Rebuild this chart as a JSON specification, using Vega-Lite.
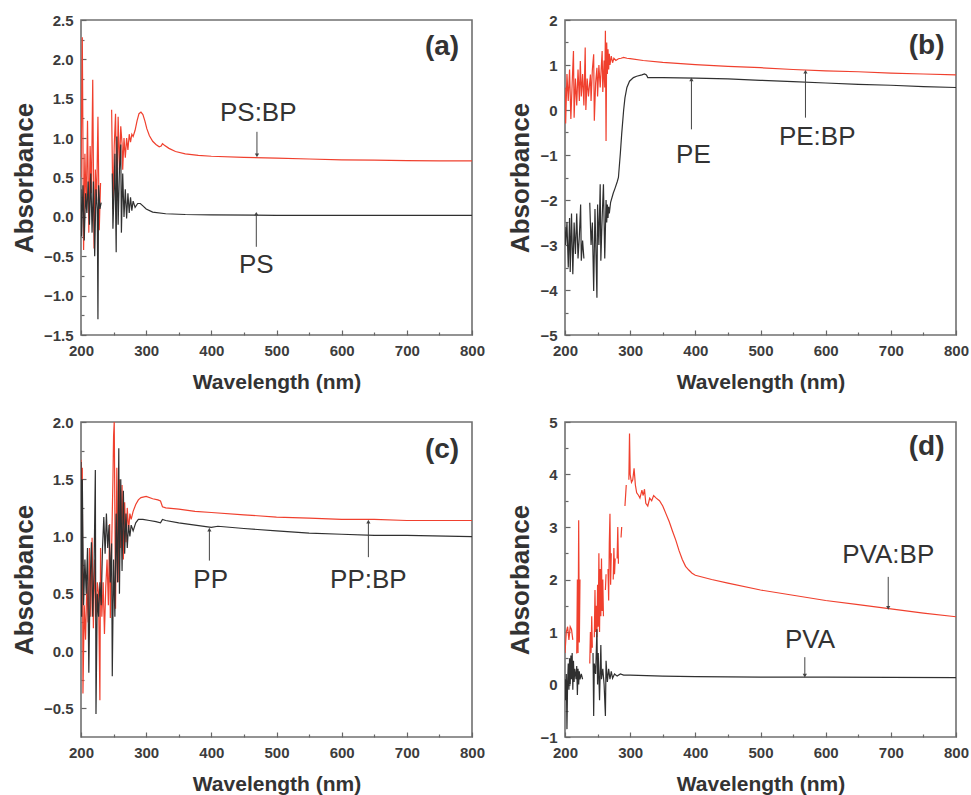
{
  "$schema": "https://vega.github.io/schema/vega-lite/v6.json",
  "padding": {"left": 10, "top": 12, "right": 5, "bottom": 5},
  "background": "white",
  "config": {
    "view": {"stroke": "#707070", "strokeWidth": 1.6},
    "axis": {"grid": false, "domain": false, "labelFlush": false, "tickSize": -5, "tickColor": "#666666", "tickWidth": 1.2, "labelFont": "Liberation Sans", "labelFontSize": 15, "labelFontWeight": "bold", "labelColor": "#3c3c3c", "titleFont": "Liberation Sans", "titleFontWeight": "bold", "titleColor": "#333333"},
    "axisX": {"labelPadding": 13, "titleFontSize": 21, "titlePadding": 13},
    "axisY": {"labelPadding": 13, "titleFontSize": 26, "titlePadding": 6},
    "text": {"font": "Liberation Sans"}
  },
  "datasets": {
    "aR": [{"nm":200,"A":0.5},{"nm":202,"A":2.28},{"nm":204,"A":-0.42},{"nm":206,"A":0.8},{"nm":208,"A":0.1},{"nm":210,"A":1.22},{"nm":212,"A":-0.2},{"nm":214,"A":0.9},{"nm":216,"A":0.3},{"nm":218,"A":1.74},{"nm":220,"A":-0.4},{"nm":222,"A":0.6},{"nm":224,"A":0.2},{"nm":226,"A":1.27},{"nm":228,"A":-0.17},{"nm":230,"A":0.43},{"nm":231,"A":null},{"nm":247,"A":1.36},{"nm":249,"A":0.1},{"nm":251,"A":0.9},{"nm":253,"A":1.31},{"nm":255,"A":0.2},{"nm":257,"A":1.27},{"nm":259,"A":0.6},{"nm":261,"A":1.15},{"nm":263,"A":0.93},{"nm":264,"A":0.6},{"nm":266,"A":1.0},{"nm":268,"A":0.75},{"nm":270,"A":1.0},{"nm":272,"A":0.85},{"nm":274,"A":1.05},{"nm":276,"A":0.95},{"nm":278,"A":1.05},{"nm":280,"A":1.02},{"nm":283,"A":1.1},{"nm":286,"A":1.22},{"nm":289,"A":1.31},{"nm":292,"A":1.33},{"nm":295,"A":1.3},{"nm":298,"A":1.22},{"nm":301,"A":1.12},{"nm":305,"A":1.03},{"nm":310,"A":0.96},{"nm":315,"A":0.92},{"nm":320,"A":0.89},{"nm":323,"A":0.9},{"nm":325,"A":0.93},{"nm":328,"A":0.91},{"nm":335,"A":0.87},{"nm":345,"A":0.83},{"nm":360,"A":0.8},{"nm":380,"A":0.78},{"nm":400,"A":0.77},{"nm":450,"A":0.755},{"nm":500,"A":0.745},{"nm":550,"A":0.735},{"nm":600,"A":0.725},{"nm":650,"A":0.72},{"nm":700,"A":0.715},{"nm":750,"A":0.71},{"nm":800,"A":0.71}],
    "aK": [{"nm":200,"A":0.35},{"nm":201,"A":-0.25},{"nm":203,"A":0.4},{"nm":205,"A":-0.3},{"nm":207,"A":0.3},{"nm":209,"A":0.05},{"nm":211,"A":0.45},{"nm":213,"A":-0.1},{"nm":215,"A":0.55},{"nm":217,"A":-0.2},{"nm":219,"A":0.45},{"nm":221,"A":-0.5},{"nm":223,"A":0.35},{"nm":225,"A":0.1},{"nm":226,"A":-1.3},{"nm":227,"A":0.4},{"nm":229,"A":0.1},{"nm":231,"A":0.18},{"nm":232,"A":null},{"nm":248,"A":0.55},{"nm":249,"A":-0.15},{"nm":251,"A":0.4},{"nm":252,"A":0.8},{"nm":254,"A":-0.45},{"nm":255,"A":1.02},{"nm":257,"A":-0.1},{"nm":259,"A":0.6},{"nm":261,"A":0.92},{"nm":262,"A":-0.2},{"nm":264,"A":0.55},{"nm":266,"A":0.0},{"nm":268,"A":0.35},{"nm":270,"A":-0.02},{"nm":272,"A":0.3},{"nm":274,"A":0.05},{"nm":276,"A":0.25},{"nm":278,"A":0.08},{"nm":280,"A":0.2},{"nm":283,"A":0.12},{"nm":287,"A":0.17},{"nm":291,"A":0.17},{"nm":295,"A":0.14},{"nm":300,"A":0.1},{"nm":310,"A":0.06},{"nm":330,"A":0.04},{"nm":360,"A":0.03},{"nm":400,"A":0.025},{"nm":500,"A":0.02},{"nm":600,"A":0.02},{"nm":800,"A":0.02}],
    "bR": [{"nm":200,"A":0.5},{"nm":201,"A":-0.3},{"nm":203,"A":0.8},{"nm":205,"A":0.2},{"nm":207,"A":0.9},{"nm":209,"A":-0.2},{"nm":211,"A":0.6},{"nm":213,"A":1.31},{"nm":214,"A":-0.17},{"nm":216,"A":0.7},{"nm":218,"A":0.1},{"nm":220,"A":0.9},{"nm":222,"A":0.2},{"nm":223.5,"A":1.09},{"nm":225,"A":0.3},{"nm":227,"A":0.8},{"nm":229,"A":0.1},{"nm":231,"A":1.39},{"nm":232,"A":0.0},{"nm":234,"A":0.7},{"nm":236,"A":0.3},{"nm":239,"A":0.79},{"nm":240,"A":0.2},{"nm":242,"A":0.9},{"nm":244,"A":1.24},{"nm":245,"A":-0.24},{"nm":247,"A":0.6},{"nm":249,"A":0.94},{"nm":250,"A":0.3},{"nm":252,"A":1.0},{"nm":254,"A":0.5},{"nm":257,"A":1.31},{"nm":258,"A":0.4},{"nm":260,"A":1.1},{"nm":261,"A":0.5},{"nm":262,"A":1.76},{"nm":263,"A":-0.69},{"nm":264,"A":1.5},{"nm":265,"A":0.8},{"nm":266,"A":1.35},{"nm":267,"A":0.9},{"nm":268,"A":1.25},{"nm":269,"A":1.0},{"nm":271,"A":1.2},{"nm":273,"A":1.05},{"nm":275,"A":1.15},{"nm":278,"A":1.1},{"nm":282,"A":1.14},{"nm":286,"A":1.15},{"nm":290,"A":1.17},{"nm":295,"A":1.15},{"nm":300,"A":1.14},{"nm":320,"A":1.1},{"nm":350,"A":1.06},{"nm":400,"A":1.01},{"nm":450,"A":0.97},{"nm":500,"A":0.94},{"nm":550,"A":0.9},{"nm":600,"A":0.87},{"nm":650,"A":0.85},{"nm":700,"A":0.82},{"nm":750,"A":0.8},{"nm":800,"A":0.78}],
    "bK": [{"nm":200,"A":-2.6},{"nm":201,"A":-3.0},{"nm":203,"A":-2.5},{"nm":205,"A":-3.5},{"nm":207,"A":-2.4},{"nm":208,"A":-3.6},{"nm":210,"A":-2.3},{"nm":212,"A":-3.65},{"nm":214,"A":-2.5},{"nm":216,"A":-3.2},{"nm":218,"A":-2.3},{"nm":220,"A":-3.3},{"nm":222,"A":-2.8},{"nm":224,"A":-2.1},{"nm":225,"A":-3.35},{"nm":227,"A":-2.9},{"nm":229,"A":-3.3},{"nm":230,"A":null},{"nm":238,"A":-2.06},{"nm":240,"A":-3.0},{"nm":242,"A":-2.5},{"nm":244,"A":-4.02},{"nm":246,"A":-2.2},{"nm":248,"A":-3.5},{"nm":249,"A":-4.17},{"nm":250,"A":-2.1},{"nm":252,"A":-3.0},{"nm":254,"A":-1.65},{"nm":255,"A":-3.35},{"nm":257,"A":-2.4},{"nm":259,"A":-1.65},{"nm":261,"A":-3.3},{"nm":263,"A":-2.0},{"nm":264,"A":-2.5},{"nm":265,"A":-2.1},{"nm":266,"A":-2.4},{"nm":267,"A":-2.15},{"nm":268,"A":-2.3},{"nm":270,"A":-2.05},{"nm":274,"A":-1.85},{"nm":277,"A":-1.73},{"nm":280,"A":-1.6},{"nm":282,"A":-1.5},{"nm":285,"A":-0.95},{"nm":287,"A":-0.53},{"nm":290,"A":0.0},{"nm":292,"A":0.27},{"nm":295,"A":0.5},{"nm":299,"A":0.64},{"nm":305,"A":0.72},{"nm":310,"A":0.75},{"nm":318,"A":0.78},{"nm":322,"A":0.8},{"nm":325,"A":0.78},{"nm":327,"A":0.72},{"nm":350,"A":0.72},{"nm":400,"A":0.71},{"nm":450,"A":0.69},{"nm":500,"A":0.66},{"nm":550,"A":0.63},{"nm":600,"A":0.6},{"nm":650,"A":0.57},{"nm":700,"A":0.55},{"nm":750,"A":0.52},{"nm":800,"A":0.5}],
    "cR": [{"nm":200,"A":1.67},{"nm":201,"A":0.5},{"nm":202,"A":1.6},{"nm":203,"A":-0.37},{"nm":205,"A":0.4},{"nm":207,"A":0.1},{"nm":209,"A":0.6},{"nm":211,"A":0.25},{"nm":213,"A":0.9},{"nm":215,"A":0.3},{"nm":217,"A":0.99},{"nm":219,"A":0.2},{"nm":221,"A":0.8},{"nm":223,"A":0.3},{"nm":225,"A":0.6},{"nm":227,"A":0.5},{"nm":229,"A":-0.43},{"nm":230,"A":0.9},{"nm":232,"A":0.3},{"nm":234,"A":0.6},{"nm":236,"A":0.15},{"nm":238,"A":0.56},{"nm":240,"A":0.8},{"nm":242,"A":0.4},{"nm":244,"A":1.11},{"nm":245,"A":0.29},{"nm":247,"A":0.9},{"nm":249,"A":1.5},{"nm":250,"A":1.88},{"nm":251,"A":2.0},{"nm":252,"A":1.2},{"nm":253,"A":0.37},{"nm":255,"A":1.6},{"nm":257,"A":0.6},{"nm":259,"A":1.5},{"nm":261,"A":0.9},{"nm":263,"A":1.45},{"nm":265,"A":0.8},{"nm":267,"A":1.3},{"nm":269,"A":0.95},{"nm":271,"A":1.25},{"nm":273,"A":1.05},{"nm":275,"A":1.2},{"nm":277,"A":1.15},{"nm":280,"A":1.22},{"nm":284,"A":1.28},{"nm":288,"A":1.32},{"nm":292,"A":1.34},{"nm":300,"A":1.35},{"nm":310,"A":1.33},{"nm":318,"A":1.32},{"nm":322,"A":1.31},{"nm":325,"A":1.26},{"nm":330,"A":1.25},{"nm":350,"A":1.24},{"nm":375,"A":1.22},{"nm":400,"A":1.21},{"nm":450,"A":1.19},{"nm":500,"A":1.17},{"nm":550,"A":1.16},{"nm":600,"A":1.15},{"nm":650,"A":1.15},{"nm":700,"A":1.14},{"nm":800,"A":1.14}],
    "cK": [{"nm":200,"A":1.65},{"nm":201,"A":0.3},{"nm":202,"A":1.5},{"nm":204,"A":0.4},{"nm":206,"A":0.8},{"nm":208,"A":0.5},{"nm":210,"A":0.9},{"nm":212,"A":-0.19},{"nm":214,"A":0.6},{"nm":216,"A":0.95},{"nm":218,"A":0.3},{"nm":220,"A":0.7},{"nm":222,"A":1.58},{"nm":223,"A":-0.55},{"nm":225,"A":0.5},{"nm":227,"A":0.3},{"nm":229,"A":0.6},{"nm":231,"A":0.4},{"nm":233,"A":0.9},{"nm":235,"A":1.17},{"nm":237,"A":0.85},{"nm":239,"A":1.2},{"nm":241,"A":0.9},{"nm":243,"A":1.1},{"nm":245,"A":0.6},{"nm":247,"A":0.94},{"nm":248,"A":-0.22},{"nm":250,"A":0.8},{"nm":252,"A":0.3},{"nm":254,"A":1.2},{"nm":256,"A":0.6},{"nm":258,"A":1.77},{"nm":259,"A":0.5},{"nm":261,"A":1.5},{"nm":263,"A":0.7},{"nm":265,"A":1.4},{"nm":267,"A":0.85},{"nm":269,"A":1.2},{"nm":271,"A":0.9},{"nm":273,"A":1.1},{"nm":275,"A":1.0},{"nm":277,"A":1.1},{"nm":280,"A":1.05},{"nm":284,"A":1.12},{"nm":288,"A":1.15},{"nm":295,"A":1.15},{"nm":305,"A":1.14},{"nm":315,"A":1.13},{"nm":322,"A":1.12},{"nm":325,"A":1.15},{"nm":330,"A":1.14},{"nm":350,"A":1.12},{"nm":375,"A":1.1},{"nm":400,"A":1.08},{"nm":410,"A":1.09},{"nm":450,"A":1.07},{"nm":500,"A":1.05},{"nm":550,"A":1.03},{"nm":600,"A":1.02},{"nm":650,"A":1.01},{"nm":700,"A":1.01},{"nm":800,"A":1.0}],
    "dR": [{"nm":200,"A":0.6},{"nm":202,"A":1.0},{"nm":204,"A":1.1},{"nm":206,"A":0.85},{"nm":208,"A":1.1},{"nm":210,"A":1.05},{"nm":212,"A":0.85},{"nm":213,"A":null},{"nm":218,"A":0.59},{"nm":219,"A":2.0},{"nm":220,"A":0.6},{"nm":221,"A":3.13},{"nm":222,"A":0.8},{"nm":223,"A":2.0},{"nm":224,"A":null},{"nm":238,"A":0.4},{"nm":239,"A":1.0},{"nm":240,"A":0.6},{"nm":241,"A":1.3},{"nm":242,"A":0.7},{"nm":243,"A":null},{"nm":245,"A":0.9},{"nm":246,"A":1.8},{"nm":247,"A":1.0},{"nm":248,"A":1.5},{"nm":249,"A":0.9},{"nm":250,"A":1.9},{"nm":251,"A":1.1},{"nm":252,"A":2.5},{"nm":253,"A":1.0},{"nm":254,"A":2.2},{"nm":255,"A":1.3},{"nm":256,"A":2.4},{"nm":257,"A":1.4},{"nm":258,"A":2.0},{"nm":259,"A":1.3},{"nm":260,"A":null},{"nm":262,"A":1.8},{"nm":263,"A":2.1},{"nm":264,"A":null},{"nm":266,"A":2.2},{"nm":267,"A":1.6},{"nm":268,"A":2.7},{"nm":269,"A":3.25},{"nm":270,"A":1.9},{"nm":271,"A":2.5},{"nm":272,"A":null},{"nm":274,"A":2.0},{"nm":275,"A":2.6},{"nm":276,"A":2.1},{"nm":277,"A":2.4},{"nm":278,"A":null},{"nm":280,"A":2.4},{"nm":281,"A":3.0},{"nm":282,"A":2.3},{"nm":283,"A":null},{"nm":286,"A":2.8},{"nm":287,"A":3.0},{"nm":288,"A":null},{"nm":292,"A":3.4},{"nm":294,"A":3.8},{"nm":295,"A":null},{"nm":298,"A":3.9},{"nm":299,"A":4.78},{"nm":300,"A":4.0},{"nm":302,"A":3.85},{"nm":304,"A":3.9},{"nm":306,"A":4.12},{"nm":308,"A":3.8},{"nm":310,"A":3.65},{"nm":313,"A":3.6},{"nm":315,"A":3.55},{"nm":318,"A":3.7},{"nm":320,"A":3.6},{"nm":322,"A":3.72},{"nm":324,"A":3.45},{"nm":327,"A":3.4},{"nm":330,"A":3.55},{"nm":333,"A":3.5},{"nm":336,"A":3.6},{"nm":340,"A":3.55},{"nm":345,"A":3.5},{"nm":350,"A":3.4},{"nm":355,"A":3.25},{"nm":360,"A":3.1},{"nm":365,"A":2.92},{"nm":370,"A":2.75},{"nm":375,"A":2.55},{"nm":380,"A":2.38},{"nm":385,"A":2.25},{"nm":390,"A":2.18},{"nm":395,"A":2.12},{"nm":400,"A":2.08},{"nm":425,"A":2.0},{"nm":450,"A":1.93},{"nm":500,"A":1.8},{"nm":550,"A":1.7},{"nm":600,"A":1.6},{"nm":650,"A":1.52},{"nm":700,"A":1.44},{"nm":750,"A":1.36},{"nm":800,"A":1.29}],
    "dK": [{"nm":200,"A":0.1},{"nm":201,"A":-0.3},{"nm":202,"A":0.2},{"nm":203,"A":-0.85},{"nm":204,"A":0.05},{"nm":205,"A":0.4},{"nm":206,"A":-0.1},{"nm":207,"A":0.5},{"nm":208,"A":0.0},{"nm":209,"A":0.55},{"nm":210,"A":0.1},{"nm":211,"A":0.6},{"nm":212,"A":-0.1},{"nm":213,"A":0.45},{"nm":214,"A":0.05},{"nm":215,"A":0.3},{"nm":217,"A":0.1},{"nm":218,"A":0.35},{"nm":219,"A":-0.2},{"nm":220,"A":0.3},{"nm":221,"A":0.0},{"nm":222,"A":0.25},{"nm":223,"A":0.1},{"nm":225,"A":0.2},{"nm":227,"A":0.1},{"nm":228,"A":null},{"nm":243,"A":0.6},{"nm":244,"A":-0.6},{"nm":245,"A":0.4},{"nm":247,"A":0.2},{"nm":249,"A":1.05},{"nm":250,"A":0.0},{"nm":251,"A":0.6},{"nm":253,"A":-0.3},{"nm":255,"A":0.75},{"nm":256,"A":0.1},{"nm":258,"A":0.3},{"nm":260,"A":0.0},{"nm":262,"A":-0.6},{"nm":263,"A":0.45},{"nm":265,"A":0.05},{"nm":267,"A":0.3},{"nm":269,"A":0.1},{"nm":271,"A":0.25},{"nm":273,"A":0.12},{"nm":276,"A":0.2},{"nm":280,"A":0.16},{"nm":285,"A":0.2},{"nm":290,"A":0.18},{"nm":300,"A":0.18},{"nm":350,"A":0.16},{"nm":400,"A":0.15},{"nm":500,"A":0.14},{"nm":600,"A":0.14},{"nm":700,"A":0.135},{"nm":800,"A":0.13}],
    "aN": [{"t":"PS:BP","tx":472,"ty":1.32,"ax":470,"a1":1.08,"a2":0.78,"dir":"down"},{"t":"PS","tx":469,"ty":-0.61,"ax":469,"a1":-0.38,"a2":0.04,"dir":"up"}],
    "bN": [{"t":"PE","tx":397,"ty":-0.99,"ax":394,"a1":-0.43,"a2":0.68,"dir":"up"},{"t":"PE:BP","tx":587,"ty":-0.61,"ax":569,"a1":-0.17,"a2":0.85,"dir":"up"}],
    "cN": [{"t":"PP","tx":399,"ty":0.62,"ax":397,"a1":0.79,"a2":1.06,"dir":"up"},{"t":"PP:BP","tx":641,"ty":0.62,"ax":641,"a1":0.82,"a2":1.13,"dir":"up"}],
    "dN": [{"t":"PVA:BP","tx":696,"ty":2.46,"ax":696,"a1":2.05,"a2":1.46,"dir":"down"},{"t":"PVA","tx":576,"ty":0.84,"ax":568,"a1":0.52,"a2":0.17,"dir":"down"}],
    "aL": [{"t":"(a)","x":754,"y":2.16}],
    "bL": [{"t":"(b)","x":755,"y":1.42}],
    "cL": [{"t":"(c)","x":754,"y":1.755}],
    "dL": [{"t":"(d)","x":755,"y":4.53}]
  },
  "columns": 2,
  "bounds": "flush",
  "spacing": {"row": 87, "column": 93},
  "concat": [
    {
      "width": 391, "height": 315,
      "resolve": {"axis": {"x": "independent", "y": "independent"}},
      "layer": [
        {"data": {"name": "aR"}, "mark": {"type": "line", "color": "#f0402e", "strokeWidth": 1.2, "clip": true, "invalid": "break-paths-show-domains"},
         "encoding": {"x": {"field": "nm", "type": "quantitative", "scale": {"domain": [200, 800], "nice": false, "zero": false}, "axis": {"values": [200,300,400,500,600,700,800], "title": "Wavelength (nm)", "orient": "bottom"}},
                      "y": {"field": "A", "type": "quantitative", "scale": {"domain": [-1.5, 2.5], "nice": false, "zero": false}, "axis": {"values": [-1.5,-1,-0.5,0,0.5,1,1.5,2,2.5], "format": ".1f", "title": "Absorbance", "orient": "left"}}}},
        {"data": {"name": "aK"}, "mark": {"type": "line", "color": "#303030", "strokeWidth": 1.2, "clip": true, "invalid": "break-paths-show-domains"},
         "encoding": {"x": {"field": "nm", "type": "quantitative", "axis": {"values": [250,350,450,550,650,750], "labels": false, "title": null, "tickSize": -3, "orient": "bottom"}},
                      "y": {"field": "A", "type": "quantitative", "axis": {"values": [-1.25,-0.75,-0.25,0.25,0.75,1.25,1.75,2.25], "labels": false, "title": null, "tickSize": -3, "orient": "left"}}}},
        {"data": {"name": "aN"}, "mark": {"type": "rule", "color": "#444444", "strokeWidth": 1},
         "encoding": {"x": {"field": "ax", "type": "quantitative", "axis": null}, "y": {"field": "a1", "type": "quantitative", "axis": null}, "y2": {"field": "a2"}}},
        {"data": {"name": "aN"}, "mark": {"type": "point", "filled": true, "color": "#444444", "size": 18, "opacity": 1},
         "encoding": {"x": {"field": "ax", "type": "quantitative", "axis": null}, "y": {"field": "a2", "type": "quantitative", "axis": null}, "shape": {"field": "dir", "type": "nominal", "scale": {"domain": ["up", "down"], "range": ["triangle-up", "triangle-down"]}, "legend": null}}},
        {"data": {"name": "aN"}, "mark": {"type": "text", "fontSize": 26, "color": "#333333", "align": "center", "baseline": "middle"},
         "encoding": {"x": {"field": "tx", "type": "quantitative", "axis": null}, "y": {"field": "ty", "type": "quantitative", "axis": null}, "text": {"field": "t"}}},
        {"data": {"name": "aL"}, "mark": {"type": "text", "fontSize": 28, "fontWeight": "bold", "color": "#333333", "align": "center", "baseline": "middle"},
         "encoding": {"x": {"field": "x", "type": "quantitative", "axis": null}, "y": {"field": "y", "type": "quantitative", "axis": null}, "text": {"field": "t"}}}
      ]
    },
    {
      "width": 391, "height": 315,
      "resolve": {"axis": {"x": "independent", "y": "independent"}},
      "layer": [
        {"data": {"name": "bR"}, "mark": {"type": "line", "color": "#f0402e", "strokeWidth": 1.2, "clip": true, "invalid": "break-paths-show-domains"},
         "encoding": {"x": {"field": "nm", "type": "quantitative", "scale": {"domain": [200, 800], "nice": false, "zero": false}, "axis": {"values": [200,300,400,500,600,700,800], "title": "Wavelength (nm)", "orient": "bottom"}},
                      "y": {"field": "A", "type": "quantitative", "scale": {"domain": [-5, 2], "nice": false, "zero": false}, "axis": {"values": [-5,-4,-3,-2,-1,0,1,2], "format": "d", "title": "Absorbance", "orient": "left"}}}},
        {"data": {"name": "bK"}, "mark": {"type": "line", "color": "#303030", "strokeWidth": 1.2, "clip": true, "invalid": "break-paths-show-domains"},
         "encoding": {"x": {"field": "nm", "type": "quantitative", "axis": {"values": [250,350,450,550,650,750], "labels": false, "title": null, "tickSize": -3, "orient": "bottom"}},
                      "y": {"field": "A", "type": "quantitative", "axis": {"values": [-4.5,-3.5,-2.5,-1.5,-0.5,0.5,1.5], "labels": false, "title": null, "tickSize": -3, "orient": "left"}}}},
        {"data": {"name": "bN"}, "mark": {"type": "rule", "color": "#444444", "strokeWidth": 1},
         "encoding": {"x": {"field": "ax", "type": "quantitative", "axis": null}, "y": {"field": "a1", "type": "quantitative", "axis": null}, "y2": {"field": "a2"}}},
        {"data": {"name": "bN"}, "mark": {"type": "point", "filled": true, "color": "#444444", "size": 18, "opacity": 1},
         "encoding": {"x": {"field": "ax", "type": "quantitative", "axis": null}, "y": {"field": "a2", "type": "quantitative", "axis": null}, "shape": {"field": "dir", "type": "nominal", "scale": {"domain": ["up", "down"], "range": ["triangle-up", "triangle-down"]}, "legend": null}}},
        {"data": {"name": "bN"}, "mark": {"type": "text", "fontSize": 26, "color": "#333333", "align": "center", "baseline": "middle"},
         "encoding": {"x": {"field": "tx", "type": "quantitative", "axis": null}, "y": {"field": "ty", "type": "quantitative", "axis": null}, "text": {"field": "t"}}},
        {"data": {"name": "bL"}, "mark": {"type": "text", "fontSize": 28, "fontWeight": "bold", "color": "#333333", "align": "center", "baseline": "middle"},
         "encoding": {"x": {"field": "x", "type": "quantitative", "axis": null}, "y": {"field": "y", "type": "quantitative", "axis": null}, "text": {"field": "t"}}}
      ]
    },
    {
      "width": 391, "height": 315,
      "resolve": {"axis": {"x": "independent", "y": "independent"}},
      "layer": [
        {"data": {"name": "cR"}, "mark": {"type": "line", "color": "#f0402e", "strokeWidth": 1.2, "clip": true, "invalid": "break-paths-show-domains"},
         "encoding": {"x": {"field": "nm", "type": "quantitative", "scale": {"domain": [200, 800], "nice": false, "zero": false}, "axis": {"values": [200,300,400,500,600,700,800], "title": "Wavelength (nm)", "orient": "bottom"}},
                      "y": {"field": "A", "type": "quantitative", "scale": {"domain": [-0.75, 2], "nice": false, "zero": false}, "axis": {"values": [-0.5,0,0.5,1,1.5,2], "format": ".1f", "title": "Absorbance", "orient": "left"}}}},
        {"data": {"name": "cK"}, "mark": {"type": "line", "color": "#303030", "strokeWidth": 1.2, "clip": true, "invalid": "break-paths-show-domains"},
         "encoding": {"x": {"field": "nm", "type": "quantitative", "axis": {"values": [250,350,450,550,650,750], "labels": false, "title": null, "tickSize": -3, "orient": "bottom"}},
                      "y": {"field": "A", "type": "quantitative", "axis": {"values": [-0.25,0.25,0.75,1.25,1.75], "labels": false, "title": null, "tickSize": -3, "orient": "left"}}}},
        {"data": {"name": "cN"}, "mark": {"type": "rule", "color": "#444444", "strokeWidth": 1},
         "encoding": {"x": {"field": "ax", "type": "quantitative", "axis": null}, "y": {"field": "a1", "type": "quantitative", "axis": null}, "y2": {"field": "a2"}}},
        {"data": {"name": "cN"}, "mark": {"type": "point", "filled": true, "color": "#444444", "size": 18, "opacity": 1},
         "encoding": {"x": {"field": "ax", "type": "quantitative", "axis": null}, "y": {"field": "a2", "type": "quantitative", "axis": null}, "shape": {"field": "dir", "type": "nominal", "scale": {"domain": ["up", "down"], "range": ["triangle-up", "triangle-down"]}, "legend": null}}},
        {"data": {"name": "cN"}, "mark": {"type": "text", "fontSize": 26, "color": "#333333", "align": "center", "baseline": "middle"},
         "encoding": {"x": {"field": "tx", "type": "quantitative", "axis": null}, "y": {"field": "ty", "type": "quantitative", "axis": null}, "text": {"field": "t"}}},
        {"data": {"name": "cL"}, "mark": {"type": "text", "fontSize": 28, "fontWeight": "bold", "color": "#333333", "align": "center", "baseline": "middle"},
         "encoding": {"x": {"field": "x", "type": "quantitative", "axis": null}, "y": {"field": "y", "type": "quantitative", "axis": null}, "text": {"field": "t"}}}
      ]
    },
    {
      "width": 391, "height": 315,
      "resolve": {"axis": {"x": "independent", "y": "independent"}},
      "layer": [
        {"data": {"name": "dR"}, "mark": {"type": "line", "color": "#f0402e", "strokeWidth": 1.2, "clip": true, "invalid": "break-paths-show-domains"},
         "encoding": {"x": {"field": "nm", "type": "quantitative", "scale": {"domain": [200, 800], "nice": false, "zero": false}, "axis": {"values": [200,300,400,500,600,700,800], "title": "Wavelength (nm)", "orient": "bottom"}},
                      "y": {"field": "A", "type": "quantitative", "scale": {"domain": [-1, 5], "nice": false, "zero": false}, "axis": {"values": [-1,0,1,2,3,4,5], "format": "d", "title": "Absorbance", "orient": "left"}}}},
        {"data": {"name": "dK"}, "mark": {"type": "line", "color": "#303030", "strokeWidth": 1.2, "clip": true, "invalid": "break-paths-show-domains"},
         "encoding": {"x": {"field": "nm", "type": "quantitative", "axis": {"values": [250,350,450,550,650,750], "labels": false, "title": null, "tickSize": -3, "orient": "bottom"}},
                      "y": {"field": "A", "type": "quantitative", "axis": {"values": [-0.5,0.5,1.5,2.5,3.5,4.5], "labels": false, "title": null, "tickSize": -3, "orient": "left"}}}},
        {"data": {"name": "dN"}, "mark": {"type": "rule", "color": "#444444", "strokeWidth": 1},
         "encoding": {"x": {"field": "ax", "type": "quantitative", "axis": null}, "y": {"field": "a1", "type": "quantitative", "axis": null}, "y2": {"field": "a2"}}},
        {"data": {"name": "dN"}, "mark": {"type": "point", "filled": true, "color": "#444444", "size": 18, "opacity": 1},
         "encoding": {"x": {"field": "ax", "type": "quantitative", "axis": null}, "y": {"field": "a2", "type": "quantitative", "axis": null}, "shape": {"field": "dir", "type": "nominal", "scale": {"domain": ["up", "down"], "range": ["triangle-up", "triangle-down"]}, "legend": null}}},
        {"data": {"name": "dN"}, "mark": {"type": "text", "fontSize": 26, "color": "#333333", "align": "center", "baseline": "middle"},
         "encoding": {"x": {"field": "tx", "type": "quantitative", "axis": null}, "y": {"field": "ty", "type": "quantitative", "axis": null}, "text": {"field": "t"}}},
        {"data": {"name": "dL"}, "mark": {"type": "text", "fontSize": 28, "fontWeight": "bold", "color": "#333333", "align": "center", "baseline": "middle"},
         "encoding": {"x": {"field": "x", "type": "quantitative", "axis": null}, "y": {"field": "y", "type": "quantitative", "axis": null}, "text": {"field": "t"}}}
      ]
    }
  ]
}
